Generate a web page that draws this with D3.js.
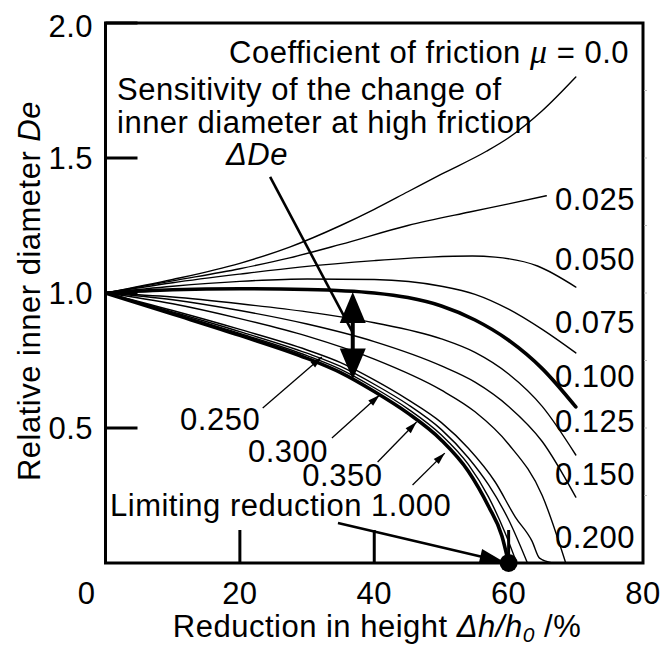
<!DOCTYPE html>
<html>
<head>
<meta charset="utf-8">
<script src="https://cdn.jsdelivr.net/npm/d3@7/dist/d3.min.js"></script>
<style>
  html, body { margin: 0; padding: 0; background: #fff; }
  svg text { font-family: "Liberation Sans", Arial, Helvetica, sans-serif; font-size: 31px; letter-spacing: 0.5px; fill: #000; }
  .it { font-style: italic; }
</style>
</head>
<body>
<svg id="chart" width="662" height="645"></svg>
<script>
// Ring-compression calibration curves: relative inner diameter vs. reduction in height,
// one curve per coefficient of friction. Points are [reduction %, De].
const mu0000 = [[0,1.0],[10,1.05],[20,1.11],[27.4,1.17],[35,1.25],[40,1.31],[45,1.375],[50,1.44],[56.7,1.525],[60,1.575],[65,1.675],[70,1.80]];
const mu0025 = [[0,1.0],[10,1.045],[20,1.09],[27.4,1.13],[35,1.18],[45,1.25],[54.2,1.30],[60,1.33],[65.6,1.36]];
const mu0050 = [[0,1.0],[10,1.038],[20,1.07],[28.9,1.096],[40,1.12],[48.3,1.133],[54.6,1.137],[58,1.133],[64.3,1.10],[70,1.022]];
const mu0075 = [[0,1.0],[10,1.025],[20,1.043],[30,1.052],[40,1.05],[50,1.025],[55,0.995],[60,0.94],[65,0.865],[70,0.778]];
const mu0100 = [[0,1.0],[10,1.012],[20,1.016],[30,1.013],[40,1.0],[45,0.983],[50,0.952],[55,0.90],[60,0.825],[65,0.72],[70,0.578]];
const mu0125 = [[0,1.0],[10,0.985],[20,0.96],[30,0.93],[40,0.89],[50,0.83],[55,0.78],[60,0.70],[65,0.58],[70,0.40]];
const mu0150 = [[0,1.0],[10,0.975],[20,0.935],[30,0.885],[40,0.82],[50,0.73],[55,0.67],[60,0.58],[65,0.45],[70,0.244]];
const mu0200 = [[0,1.0],[10,0.96],[20,0.905],[30,0.84],[40,0.755],[50,0.64],[55,0.56],[60,0.44],[65,0.25],[68.5,0.0]];
const mu0250 = [[0,1.0],[10,0.935],[20,0.865],[30,0.789],[35,0.742],[40,0.678],[45,0.605],[50,0.52],[54,0.425],[58,0.30],[61,0.17],[63.5,0.08],[64.6,0.018],[66.5,0.0]];
const mu0300 = [[0,1.0],[10,0.93],[20,0.857],[30,0.777],[35,0.728],[40,0.662],[45,0.587],[50,0.494],[54,0.39],[57,0.29],[60,0.16],[62.8,0.0]];
const mu0350 = [[0,1.0],[10,0.926],[20,0.85],[30,0.768],[35,0.717],[40,0.649],[45,0.571],[50,0.474],[54,0.365],[57,0.245],[59.5,0.11],[61.2,0.0]];
const mu1000 = [[0,1.0],[10,0.922],[20,0.843],[30,0.758],[35,0.705],[40,0.635],[45,0.555],[50,0.455],[54,0.34],[57,0.21],[59,0.10],[60,0.0]];

const xTicks = [0, 20, 40, 60, 80];
const yTicks = [0.5, 1.0, 1.5, 2.0];
const yTickLabels = ["0.5", "1.0", "1.5", "2.0"];

// Labels written next to the curve ends on the right (μ value, label baseline in De units)
const rightLabels = ["0.025", "0.050", "0.075", "0.100", "0.125", "0.150", "0.200"];
const rightLabelDe = [1.307, 1.085, 0.852, 0.652, 0.485, 0.289, 0.056];

// Labels for the high-friction curves and their pointer arrows (reduction %, De)
const lowLabels = ["0.250", "0.300", "0.350"];
const lowLabelPos = [[11.1, 0.493], [21.2, 0.374], [29.3, 0.285]];
const lowArrowTail = [[23.4, 0.574], [33.7, 0.463], [40.5, 0.374], [45.7, 0.289]];
const lowArrowTip = [[32.2, 0.763], [40.8, 0.622], [46.3, 0.522], [50.5, 0.407]];

const series = [
  { mu: "0.0", pts: mu0000, thick: false },
  { mu: "0.025", pts: mu0025, thick: false },
  { mu: "0.050", pts: mu0050, thick: false },
  { mu: "0.075", pts: mu0075, thick: false },
  { mu: "0.100", pts: mu0100, thick: true },
  { mu: "0.125", pts: mu0125, thick: false },
  { mu: "0.150", pts: mu0150, thick: false },
  { mu: "0.200", pts: mu0200, thick: false },
  { mu: "0.250", pts: mu0250, thick: false },
  { mu: "0.300", pts: mu0300, thick: false },
  { mu: "0.350", pts: mu0350, thick: false },
  { mu: "1.000", pts: mu1000, thick: true }
];

const svg = d3.select("#chart");
const x = d3.scaleLinear().domain([0, 80]).range([105.5, 643]);
const y = d3.scaleLinear().domain([0, 2]).range([563, 23]);

// value of a curve at a given reduction (piecewise linear between read points)
function valueAt(pts, xv) {
  for (let i = 1; i < pts.length; i++) {
    if (xv <= pts[i][0]) {
      const t = (xv - pts[i-1][0]) / (pts[i][0] - pts[i-1][0]);
      return pts[i-1][1] + t * (pts[i][1] - pts[i-1][1]);
    }
  }
  return pts[pts.length - 1][1];
}

function headPath(tx, ty, fx, fy, len, hw) {
  const dx = tx - fx, dy = ty - fy, L = Math.hypot(dx, dy);
  const ux = dx / L, uy = dy / L;
  const bx = tx - ux * len, by = ty - uy * len;
  return `M${tx},${ty}L${bx - uy * hw},${by + ux * hw}L${bx + uy * hw},${by - ux * hw}Z`;
}

svg.append("defs").append("clipPath").attr("id", "plotClip")
  .append("rect").attr("x", x(0)).attr("y", y(2)).attr("width", x(80) - x(0)).attr("height", y(0) - y(2));

// curves
const line = d3.line().x(d => x(d[0])).y(d => y(d[1])).curve(d3.curveMonotoneX);
svg.append("g").attr("clip-path", "url(#plotClip)")
  .selectAll("path").data(series).join("path")
  .attr("d", d => line(d.pts))
  .attr("fill", "none").attr("stroke", "#000")
  .attr("stroke-width", d => d.thick ? 3.6 : 1.4)
  .attr("stroke-linejoin", "round").attr("stroke-linecap", "round");

// frame
svg.append("rect").attr("x", x(0)).attr("y", y(2)).attr("width", x(80) - x(0)).attr("height", y(0) - y(2))
  .attr("fill", "none").attr("stroke", "#000").attr("stroke-width", 3);

// inward ticks
svg.append("g").selectAll("line").data(xTicks.filter(v => v > 0 && v < 80)).join("line")
  .attr("x1", d => x(d)).attr("x2", d => x(d)).attr("y1", y(0)).attr("y2", y(0) - 33)
  .attr("stroke", "#000").attr("stroke-width", 3);
svg.append("g").selectAll("line").data(yTicks).join("line")
  .attr("x1", x(0)).attr("x2", x(0) + 32).attr("y1", d => y(d)).attr("y2", d => y(d))
  .attr("stroke", "#000").attr("stroke-width", 3);
// faint minor marks on the right edge
svg.append("g").selectAll("line").data(d3.range(0.25, 2, 0.25)).join("line")
  .attr("x1", x(80) + 1).attr("x2", x(80) + 4).attr("y1", d => y(d)).attr("y2", d => y(d))
  .attr("stroke", "#bbb").attr("stroke-width", 1);

// tick labels
svg.append("g").selectAll("text").data(xTicks).join("text")
  .attr("x", d => d === 0 ? x(d) - 19 : x(d)).attr("y", 604)
  .attr("text-anchor", "middle").text(d => d);
svg.append("g").selectAll("text").data(yTicks).join("text")
  .attr("x", 93).attr("y", d => Math.max(y(d), y(2) + 3) + 11)
  .attr("text-anchor", "end").text((d, i) => yTickLabels[i]);

// axis titles
const xt = svg.append("text").attr("x", 377).attr("y", 637).attr("text-anchor", "middle");
xt.append("tspan").text("Reduction in height ");
xt.append("tspan").attr("class", "it").text("Δh/h");
xt.append("tspan").attr("class", "it").attr("font-size", 21).attr("dy", 5).text("0");
xt.append("tspan").attr("dy", -5).text(" /%");

const yt = svg.append("text").attr("transform", "translate(40,291) rotate(-90)").attr("text-anchor", "middle");
yt.append("tspan").text("Relative inner diameter ");
yt.append("tspan").attr("class", "it").text("De");

// heading for the μ family
const ht = svg.append("text").attr("x", 629).attr("y", 63).attr("text-anchor", "end");
ht.append("tspan").text("Coefficient of friction ");
ht.append("tspan").attr("font-family", "'Liberation Serif', 'Times New Roman', serif").attr("font-style", "italic").attr("font-size", 34).text("μ");
ht.append("tspan").text(" = 0.0");

// right-side curve labels
svg.append("g").selectAll("text").data(rightLabels).join("text")
  .attr("x", 555).attr("y", (d, i) => y(rightLabelDe[i])).text(d => d);

// ΔDe annotation
svg.append("text").attr("x", 117).attr("y", 100).text("Sensitivity of the change of");
svg.append("text").attr("x", 117).attr("y", 133).text("inner diameter at high friction");
svg.append("text").attr("x", 257).attr("y", 165).attr("text-anchor", "middle").attr("class", "it").text("ΔDe");

const xD = 36.8;
const deTop = valueAt(mu0100, xD), deBot = valueAt(mu1000, xD);
const ax = x(xD), ayTop = y(deTop), ayBot = y(deBot);
svg.append("line").attr("x1", x(24.5)).attr("y1", y(1.43)).attr("x2", ax).attr("y2", (ayTop + ayBot) / 2 - 3)
  .attr("stroke", "#000").attr("stroke-width", 2.6);
svg.append("line").attr("x1", ax).attr("x2", ax).attr("y1", ayTop + 28).attr("y2", ayBot - 28)
  .attr("stroke", "#000").attr("stroke-width", 4);
svg.append("path").attr("d", headPath(ax, ayTop, ax, ayTop + 40, 31, 13)).attr("fill", "#000");
svg.append("path").attr("d", headPath(ax, ayBot, ax, ayBot - 40, 31, 13)).attr("fill", "#000");

// high-friction labels and pointer arrows
svg.append("g").selectAll("text").data(lowLabels).join("text")
  .attr("x", (d, i) => x(lowLabelPos[i][0])).attr("y", (d, i) => y(lowLabelPos[i][1])).text(d => d);
lowArrowTail.forEach((t, i) => {
  const tip = lowArrowTip[i];
  const fx = x(t[0]), fy = y(t[1]), tx = x(tip[0]), ty = y(tip[1]);
  svg.append("line").attr("x1", fx).attr("y1", fy).attr("x2", tx).attr("y2", ty)
    .attr("stroke", "#000").attr("stroke-width", 1.3);
  svg.append("path").attr("d", headPath(tx, ty, fx, fy, 12, 3.6)).attr("fill", "#000");
});

// limiting reduction
svg.append("text").attr("x", 110).attr("y", 516).text("Limiting reduction 1.000");
const limX = 60;
const lx = x(limX), ly = y(0);
const tailX = x(34.6), tailY = y(0.148);
const dxL = lx - tailX, dyL = ly - tailY, LL = Math.hypot(dxL, dyL);
const tipX = lx - dxL / LL * 5, tipY = ly - dyL / LL * 5;
svg.append("line").attr("x1", tailX).attr("y1", tailY).attr("x2", tipX - dxL / LL * 15).attr("y2", tipY - dyL / LL * 15)
  .attr("stroke", "#000").attr("stroke-width", 2.6);
svg.append("path").attr("d", headPath(tipX, tipY, tailX, tailY, 24, 7.5)).attr("fill", "#000");
svg.append("circle").attr("cx", lx).attr("cy", ly).attr("r", 9).attr("fill", "#000");
</script>
</body>
</html>
